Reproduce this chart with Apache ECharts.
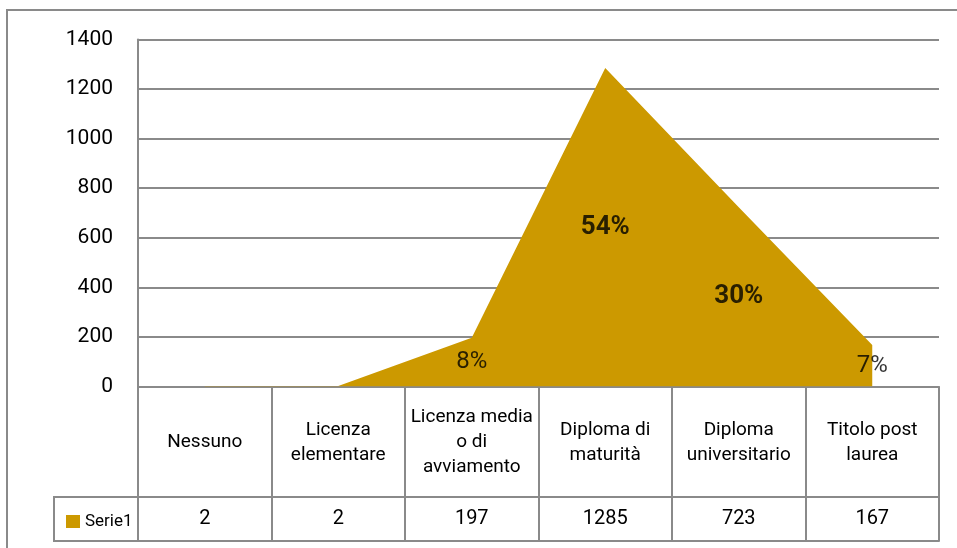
<!DOCTYPE html>
<html>
<head>
<meta charset="utf-8">
<script src="https://cdn.jsdelivr.net/npm/echarts@6/dist/echarts.min.js"></script>
<style>
  html, body { margin: 0; padding: 0; background: #fff; }
  #chart { width: 957px; height: 548px; }
</style>
</head>
<body>
<div id="chart"></div>
<script>
const categories = [
    'Nessuno',
    'Licenza\nelementare',
    'Licenza media\no di\navviamento',
    'Diploma di\nmaturità',
    'Diploma\nuniversitario',
    'Titolo post\nlaurea'
];
const serie1 = [2, 2, 197, 1285, 723, 167];
const seriesName = 'Serie1';
const yTicks = [0, 200, 400, 600, 800, 1000, 1200, 1400];

const FONT = "Roboto, 'Liberation Sans', sans-serif";
const GRAY = '#8a8a8a';
const GOLD = '#cc9900';

const total = serie1.reduce((a, b) => a + b, 0);
const pct = serie1.map(v => Math.round(v / total * 100));

const chart = echarts.init(document.getElementById('chart'));

var option = {
    animation: false,
    textStyle: { fontFamily: FONT },
    grid: { left: 138, right: 18, top: 39.5, bottom: 161.5, containLabel: false },
    legend: {
        data: [seriesName],
        left: 61,
        top: 508,
        icon: 'rect',
        itemWidth: 14,
        itemHeight: 13,
        textStyle: { fontFamily: FONT, fontSize: 17, color: '#000' }
    },
    xAxis: [
        {
            type: 'category',
            data: categories,
            boundaryGap: true,
            axisLine: { show: true, lineStyle: { color: GRAY, width: 2 } },
            axisTick: { show: true, interval: 0, length: 154.5, lineStyle: { color: GRAY, width: 2 } },
            axisLabel: {
                interval: 0, margin: 56, verticalAlign: 'middle', lineHeight: 25,
                fontFamily: FONT, fontSize: 19, color: '#000'
            }
        },
        {
            type: 'category',
            data: serie1.map(String),
            position: 'bottom',
            offset: 110.5,
            axisLine: { show: true, lineStyle: { color: GRAY, width: 2 } },
            axisTick: { show: false },
            axisLabel: {
                interval: 0, margin: 22, verticalAlign: 'middle',
                fontFamily: FONT, fontSize: 20, color: '#000'
            }
        },
        {
            type: 'category',
            data: categories,
            position: 'bottom',
            offset: 154.5,
            axisLine: { show: true, lineStyle: { color: GRAY, width: 2 } },
            axisTick: { show: false },
            axisLabel: { show: false }
        }
    ],
    yAxis: {
        type: 'value',
        min: yTicks[0],
        max: yTicks[yTicks.length - 1],
        interval: 200,
        axisLine: { show: true, lineStyle: { color: GRAY, width: 2 } },
        axisTick: { show: false },
        splitLine: { lineStyle: { color: GRAY, width: 2 } },
        axisLabel: {
            margin: 25, fontFamily: FONT, fontSize: 21, color: '#000',
            formatter: v => String(v)
        }
    },
    graphic: [
        {
            type: 'polyline',
            shape: { points: [[7, 548], [7, 10], [957, 10]] },
            style: { stroke: GRAY, lineWidth: 2, fill: null },
            silent: true
        },
        {
            type: 'rect',
            shape: { x: 54, y: 497, width: 84, height: 44 },
            style: { stroke: GRAY, lineWidth: 2, fill: null },
            silent: true
        }
    ],
    series: [
        {
            name: seriesName,
            type: 'line',
            data: serie1,
            symbol: 'none',
            lineStyle: { width: 0 },
            itemStyle: { color: GOLD },
            areaStyle: { color: GOLD, opacity: 1 },
            z: 2
        },
        {
            name: 'pct',
            type: 'scatter',
            symbolSize: 0,
            data: serie1.map((v, i) => ({
                value: v / 2,
                label: {
                    show: pct[i] > 0,
                    color: '#000',
                    fontWeight: pct[i] >= 20 ? 'bold' : 'normal',
                    fontSize: pct[i] >= 20 ? 26 : 24
                }
            })),
            label: {
                position: 'inside',
                color: '#000',
                fontFamily: FONT,
                formatter: p => pct[p.dataIndex] + '%'
            },
            z: 5
        }
    ]
};
chart.setOption(option, true);
</script>
</body>
</html>
